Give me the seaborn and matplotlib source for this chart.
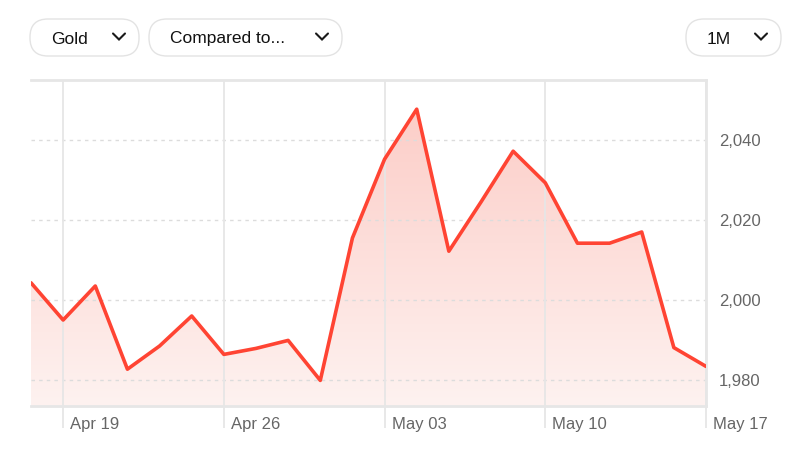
import numpy as np
import matplotlib
matplotlib.use("Agg")
import matplotlib.pyplot as plt
import matplotlib.transforms as mtransforms
from matplotlib.patches import FancyBboxPatch, Polygon
import seaborn as sns

# trading days shown on the chart
dates = ["Apr 18", "Apr 19", "Apr 22", "Apr 23", "Apr 24", "Apr 25", "Apr 26",
         "Apr 29", "Apr 30", "May 01", "May 02", "May 03", "May 06", "May 07",
         "May 08", "May 09", "May 10", "May 13", "May 14", "May 15", "May 16",
         "May 17"]
price = [2004.3, 1995.0, 2003.5, 1982.7, 1988.5, 1996.0, 1986.4, 1987.9,
         1989.9, 1979.9, 2015.5, 2035.2, 2047.7, 2012.2, 2024.5, 2037.2,
         2029.3, 2014.2, 2014.2, 2017.0, 1988.1, 1983.4]
tick_dates = ["Apr 19", "Apr 26", "May 03", "May 10", "May 17"]
y_ticks = [1980, 2000, 2020, 2040]
buttons = ["Gold", "Compared to...", "1M"]

sns.set_style("white")
plt.rcParams["font.family"] = ["Liberation Sans", "DejaVu Sans"]

line_col = "#ff4433"
grid_col = "#e6e6e6"
text_col = "#666666"

fig = plt.figure(figsize=(7.97, 4.62), dpi=100)

# pixel overlay for the buttons
bg = fig.add_axes([0, 0, 1, 1])
bg.set_xlim(0, 797)
bg.set_ylim(462, 0)
bg.axis("off")
btn_boxes = [(30, 139), (149, 342), (686, 781)]
for (x0, x1), lab in zip(btn_boxes, buttons):
    bg.add_patch(FancyBboxPatch((x0, 19), x1 - x0, 37,
                                boxstyle="round,pad=0,rounding_size=18",
                                fc="white", ec="#e3e3e3", lw=1))
    bg.text(x0 + 21, 39, lab, fontsize=12.5, color="#111111", va="center", ha="left")
    cx = x1 - 20
    bg.plot([cx - 6, cx, cx + 6], [33.5, 39.5, 33.5], color="#1a1a1a", lw=1.5,
            solid_capstyle="round", solid_joinstyle="miter")

W, H = 797, 462
ax = fig.add_axes([31 / W, 1 - 406 / H, (706 - 31) / W, (406 - 80) / H])
ax.patch.set_alpha(0)

idx = np.arange(len(dates))
ymin, ymax = 1973.5, 2055
ax.set_xlim(0, len(dates) - 1)
ax.set_ylim(ymin, ymax)

# gradient fill under the line
grad = np.linspace(0, 1, 256).reshape(-1, 1)
cmap = matplotlib.colors.LinearSegmentedColormap.from_list("g", ["#fef2f0", "#fccac4"])
im = ax.imshow(grad, cmap=cmap, aspect="auto", origin="lower",
               extent=[0, len(dates) - 1, ymin, ymax], zorder=1)
poly = Polygon([(0, ymin)] + list(zip(idx, price)) + [(idx[-1], ymin)],
               fc="none", ec="none")
ax.add_patch(poly)
im.set_clip_path(poly)

sns.lineplot(x=idx, y=price, ax=ax, color=line_col, lw=2.6, zorder=3)

# grid
for yv in y_ticks:
    ax.axhline(yv, color="#dcdcdc", lw=1, ls=(0, (2.5, 3)), zorder=2)
tick_pos = [dates.index(d) for d in tick_dates]
for p in tick_pos:
    ax.axvline(p, color=grid_col, lw=1.3, zorder=2)

ax.spines["left"].set_visible(False)
for s in ["top", "bottom", "right"]:
    ax.spines[s].set_color(grid_col)
    ax.spines[s].set_linewidth(2)

ax.set_xticks(tick_pos)
ax.set_xticklabels([])
ax.tick_params(axis="x", bottom=True, length=16, width=1.3, color=grid_col,
               direction="out")
tr = mtransforms.offset_copy(ax.get_xaxis_transform(), fig=fig, x=7, y=0, units="dots")
for p, lab in zip(tick_pos, tick_dates):
    ax.text(p, -18 / 326, lab, transform=tr, fontsize=12, color=text_col,
            ha="left", va="center")

ax.yaxis.tick_right()
ax.set_yticks(y_ticks)
ax.set_yticklabels([f"{v:,}" for v in y_ticks])
ax.tick_params(axis="y", length=0, pad=9.5, labelsize=12, labelcolor=text_col)
ax.set_xlabel("")
ax.set_ylabel("")

fig.savefig("out.png", dpi=100)
